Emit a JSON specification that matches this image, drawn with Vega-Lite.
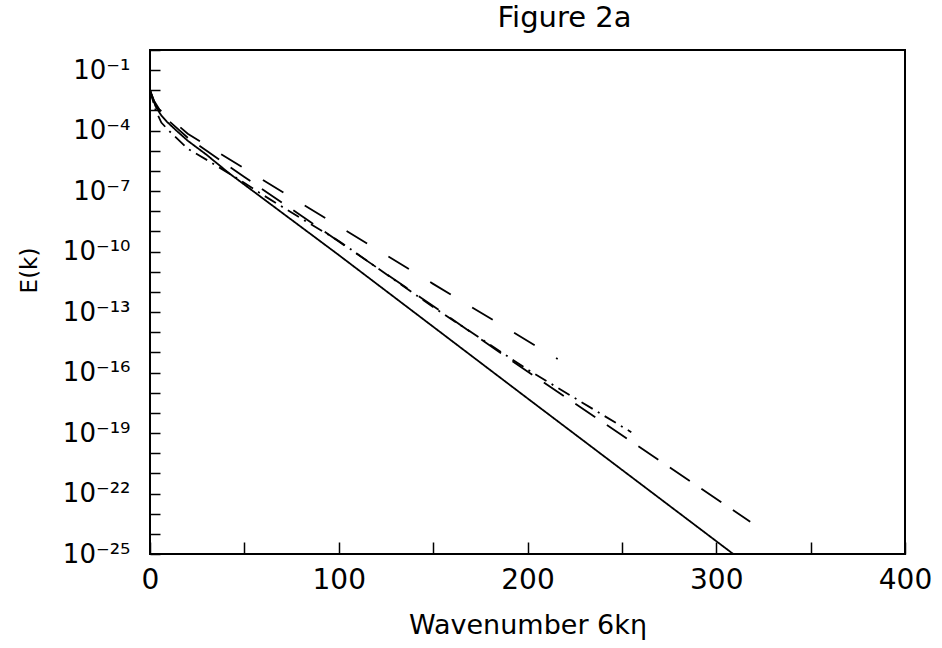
{
  "$schema": "https://vega.github.io/schema/vega-lite/v6.json",
  "autosize": "none",
  "width": 755,
  "height": 504,
  "padding": {"left": 150, "top": 50, "right": 37, "bottom": 94},
  "background": "white",
  "title": {"text": "Figure 2a", "fontSize": 29, "fontWeight": "normal", "font": "DejaVu Sans", "color": "black", "dx": 37, "offset": 16},
  "config": {
    "view": {"stroke": "black", "strokeWidth": 2},
    "axis": {"domain": false, "grid": false, "tickColor": "black", "tickWidth": 1.5, "labelColor": "black", "titleColor": "black", "labelFont": "DejaVu Sans", "titleFont": "DejaVu Sans", "titleFontWeight": "normal"}
  },
  "data": {"values": [
    {"s": "solid", "x": 0, "E": 1e-2},
    {"s": "solid", "x": 1, "E": 5.01e-3},
    {"s": "solid", "x": 3, "E": 1.58e-3},
    {"s": "solid", "x": 6, "E": 5.62e-4},
    {"s": "solid", "x": 9, "E": 2.75e-4},
    {"s": "solid", "x": 14, "E": 1e-4},
    {"s": "solid", "x": 20, "E": 3.16e-5},
    {"s": "solid", "x": 30, "E": 6.31e-6},
    {"s": "solid", "x": 42, "E": 7.59e-7},
    {"s": "solid", "x": 100, "E": 6.76e-11},
    {"s": "solid", "x": 200, "E": 5.25e-18},
    {"s": "solid", "x": 309, "E": 1e-25},
    {"s": "long", "x": 0, "E": 1e-2},
    {"s": "long", "x": 2, "E": 3.16e-3},
    {"s": "long", "x": 5, "E": 1.12e-3},
    {"s": "long", "x": 10, "E": 4.47e-4},
    {"s": "long", "x": 15, "E": 1.78e-4},
    {"s": "long", "x": 20, "E": 7.08e-5},
    {"s": "long", "x": 30, "E": 1.86e-5},
    {"s": "long", "x": 50, "E": 1.32e-6},
    {"s": "long", "x": 75, "E": 4.79e-8},
    {"s": "long", "x": 100, "E": 1.82e-9},
    {"s": "long", "x": 150, "E": 2.51e-12},
    {"s": "long", "x": 216, "E": 4.68e-16},
    {"s": "dashdot", "x": 0, "E": 1e-2},
    {"s": "dashdot", "x": 3, "E": 1e-3},
    {"s": "dashdot", "x": 6, "E": 2.51e-4},
    {"s": "dashdot", "x": 10, "E": 1e-4},
    {"s": "dashdot", "x": 20, "E": 1.26e-5},
    {"s": "dashdot", "x": 31, "E": 3.16e-6},
    {"s": "dashdot", "x": 45, "E": 5.01e-7},
    {"s": "dashdot", "x": 60, "E": 6.31e-8},
    {"s": "dashdot", "x": 80, "E": 4.47e-9},
    {"s": "dashdot", "x": 100, "E": 3.39e-10},
    {"s": "dashdot", "x": 150, "E": 1.78e-13},
    {"s": "dashdot", "x": 200, "E": 1.41e-16},
    {"s": "dashdot", "x": 255, "E": 1.10e-19},
    {"s": "medium", "x": 0, "E": 1e-2},
    {"s": "medium", "x": 3, "E": 1.78e-3},
    {"s": "medium", "x": 8, "E": 4.47e-4},
    {"s": "medium", "x": 14, "E": 1.41e-4},
    {"s": "medium", "x": 20, "E": 4.47e-5},
    {"s": "medium", "x": 30, "E": 1e-5},
    {"s": "medium", "x": 50, "E": 5.01e-7},
    {"s": "medium", "x": 85, "E": 2.95e-9},
    {"s": "medium", "x": 100, "E": 3.16e-10},
    {"s": "medium", "x": 150, "E": 2.0e-13},
    {"s": "medium", "x": 200, "E": 1.12e-16},
    {"s": "medium", "x": 255, "E": 3.80e-20},
    {"s": "medium", "x": 318, "E": 3.98e-24}
  ]},
  "mark": {"type": "line", "color": "black", "strokeWidth": 1.8, "clip": true},
  "encoding": {
    "x": {
      "field": "x", "type": "quantitative",
      "scale": {"domain": [0, 400], "nice": false, "zero": false},
      "axis": {
        "title": "Wavenumber 6kη", "titleFontSize": 27, "titlePadding": 18,
        "values": [0, 50, 100, 150, 200, 250, 300, 350, 400],
        "labelExpr": "datum.value % 100 == 0 ? datum.value : ''",
        "labelFontSize": 28, "tickSize": -12, "labelPadding": 24, "labelFlush": false
      }
    },
    "y": {
      "field": "E", "type": "quantitative",
      "scale": {"type": "log", "domain": [1e-25, 1], "nice": false},
      "axis": {
        "title": "E(k)", "titleFontSize": 23, "titleX": -109, "titleY": 220,
        "values": [1, 1e-1, 1e-2, 1e-3, 1e-4, 1e-5, 1e-6, 1e-7, 1e-8, 1e-9, 1e-10, 1e-11, 1e-12, 1e-13, 1e-14, 1e-15, 1e-16, 1e-17, 1e-18, 1e-19, 1e-20, 1e-21, 1e-22, 1e-23, 1e-24, 1e-25],
        "labelExpr": "['', '10⁻¹', '', '', '10⁻⁴', '', '', '10⁻⁷', '', '', '10⁻¹⁰', '', '', '10⁻¹³', '', '', '10⁻¹⁶', '', '', '10⁻¹⁹', '', '', '10⁻²²', '', '', '10⁻²⁵'][round(-log(datum.value) / LN10)]",
        "labelFontSize": 26, "tickSize": -10, "labelPadding": 30, "labelFlush": false
      }
    },
    "strokeDash": {
      "field": "s", "type": "nominal",
      "scale": {"domain": ["solid", "long", "dashdot", "medium"], "range": [[1, 0], [24, 25], [13, 6, 2, 6], [24, 14]]},
      "legend": null
    },
    "detail": {"field": "s"}
  }
}
